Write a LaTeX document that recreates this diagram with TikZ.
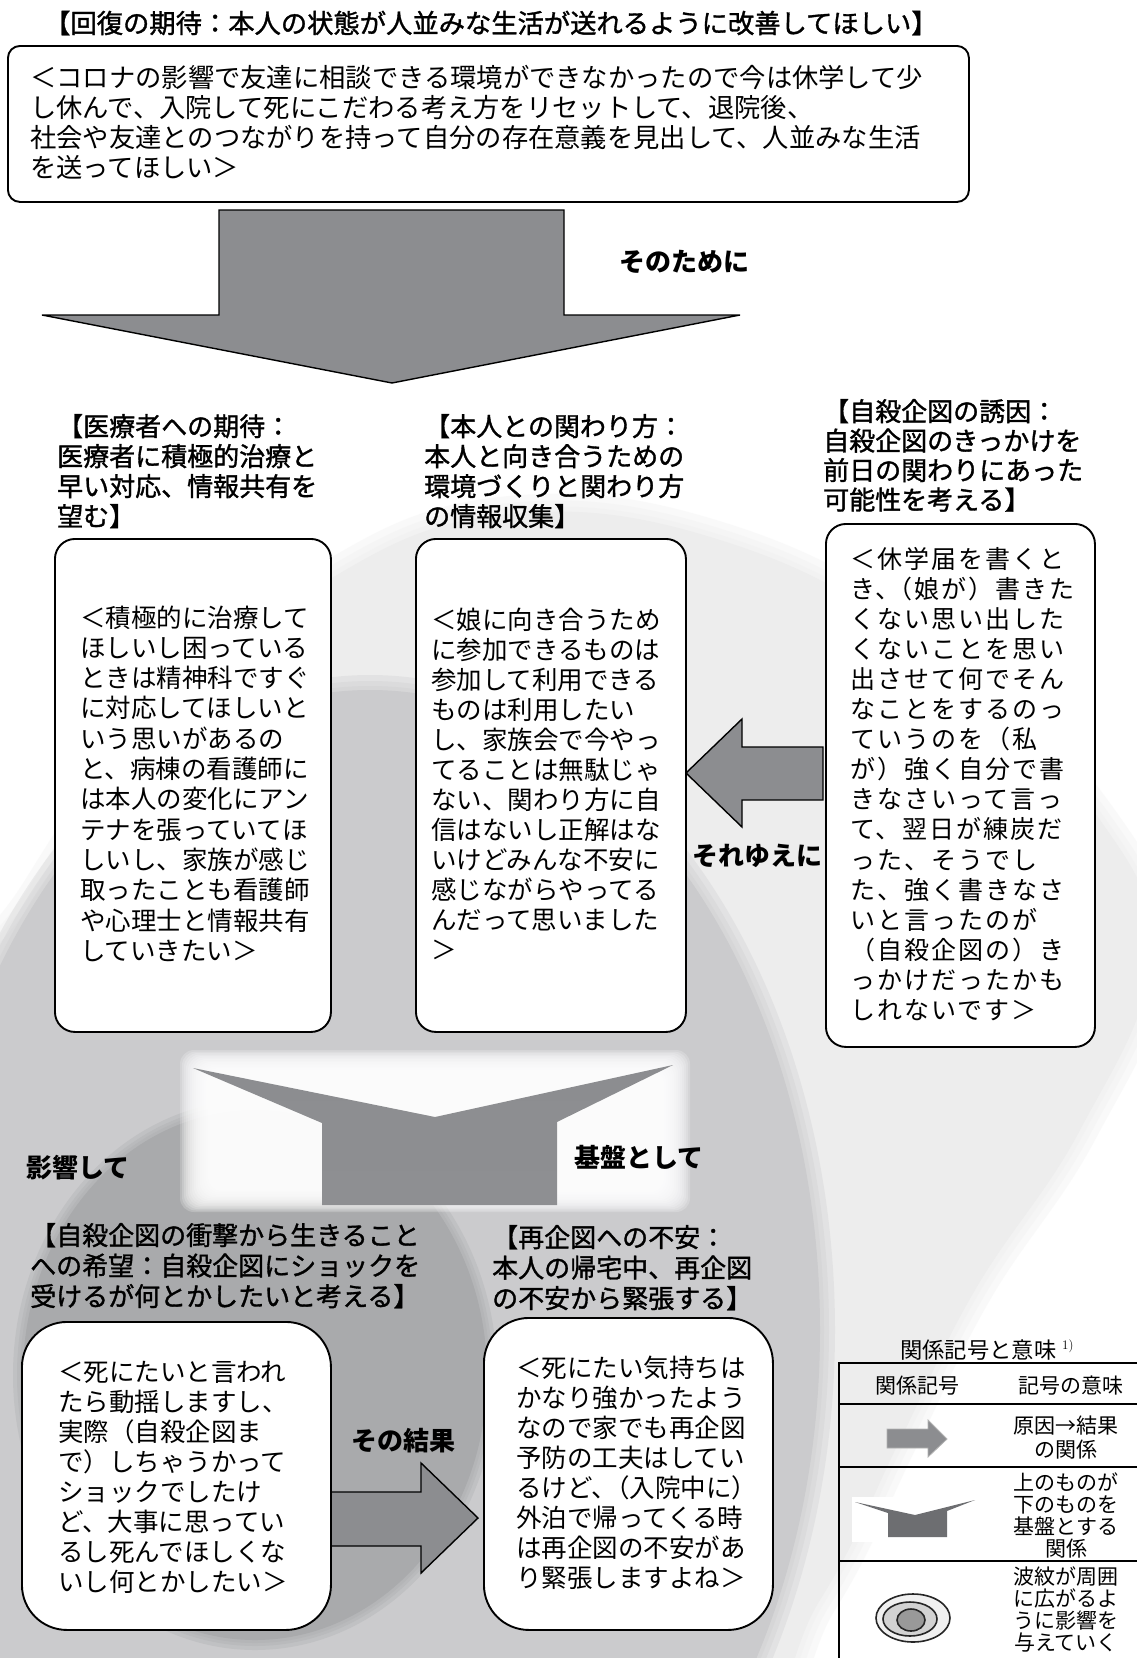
\documentclass[tikz,border=0pt]{standalone}
\usepackage{fontspec}
\newfontfamily\jp{Noto Sans CJK JP}
\newfontfamily\jpw[LetterSpace=8]{Noto Sans CJK JP}
\newfontfamily\jpm[FakeBold=1.3]{Noto Sans CJK JP}
\definecolor{bgA}{HTML}{EDEDED}
\definecolor{bgB}{HTML}{CBCBCD}
\definecolor{bgC}{HTML}{A9AAAC}
\definecolor{arrowgray}{HTML}{8C8D90}
\definecolor{mTop}{HTML}{8C8D90}
\definecolor{mMid}{HTML}{6E6F72}
\definecolor{mBot}{HTML}{8E8F92}
\definecolor{iconM}{HTML}{6D6E71}
\begin{document}
\begin{tikzpicture}[x=1pt,y=-1pt,
  box/.style={draw=black, line width=1.9pt, fill=white, inner sep=0pt, anchor=north west},
  blk/.style={fill=arrowgray, draw=black, line width=1.4pt, line join=miter},
  tx/.style={anchor=base west, inner sep=0pt, font=\jp\fontsize{25.5}{30}\selectfont},
  txr/.style={anchor=base west, inner sep=0pt, font=\jpw\fontsize{25}{30}\selectfont},
  tt/.style={anchor=base west, inner sep=0pt, font=\jp\fontsize{26.3}{30}\selectfont},
  hd/.style={anchor=base west, inner sep=0pt, font=\jpm\fontsize{26}{30}\selectfont},
  lb/.style={anchor=base west, inner sep=0pt, font=\jp\bfseries\fontsize{26}{30}\selectfont},
  lg/.style={anchor=base, inner sep=0pt, font=\jp\fontsize{21}{24}\selectfont},
  halo/.style={line width=#1, opacity=0.3, line join=round}]
\useasboundingbox (0,0) rectangle (1137,1658);
\fill[white] (0,0) rectangle (1137,1658);

% ripple background (soft-edged layers)
\path[save path=\outerP] plot[smooth cycle, tension=0.7] coordinates {(-60,1080) (40,890) (170,710) (320,585) (500,515) (720,540) (930,650) (1100,820) (1150,960) (1080,1130) (975,1290) (900,1440) (820,1600) (700,1760) (300,1800) (-60,1500)};
\path[save path=\midP] (370,1330) ellipse [x radius=450, y radius=640];
\path[save path=\innP] (255,1375) ellipse [x radius=232, y radius=265];
\foreach \w in {36,22,10} \draw[bgA, halo=\w, use path=\outerP];
\fill[bgA, use path=\outerP];
\foreach \w in {30,18,8} \draw[bgB, halo=\w, use path=\midP];
\fill[bgB, use path=\midP];
\foreach \w in {20,12,6} \draw[bgC, halo=\w, use path=\innP];
\fill[bgC, use path=\innP];

% white glow behind base symbol
\foreach \k in {0,...,14}
  \fill[white, opacity=0.2, rounded corners=14] ({180+2*\k},{1050+1.5*\k}) rectangle ({690-2*\k},{1212-1.5*\k});

% base symbol
\shade[top color=mTop, middle color=mMid, bottom color=mBot]
  (193,1068) -- (435,1117) -- (673,1065) -- (557,1122) -- (557,1205) -- (322,1205) -- (322,1123) -- cycle;

% title
\node[hd, font=\jpm\fontsize{26.3}{30}\selectfont] (title) at (44,33) {【回復の期待：本人の状態が人並みな生活が送れるように改善してほしい】};

% top box
\node[box, rounded corners=12, minimum width=961, minimum height=156] (topbox) at (7,45) {};
\foreach \s [count=\i from 0] in {{＜コロナの影響で友達に相談できる環境ができなかったので今は休学して少},{し休んで、入院して死にこだわる考え方をリセットして、退院後、},{社会や友達とのつながりを持って自分の存在意義を見出して、人並みな生活},{を送ってほしい＞}}
  \node[tt] (tb\i) at ({30},{87+30*\i}) {\s};

% big down arrow
\draw[blk] (219,210) -- (564,210) -- (564,315) -- (740,315) -- (392,383) -- (42,315) -- (219,315) -- cycle;
\node[lb] (lab1) at (619,271) {そのために};

% headers
\foreach \s [count=\i from 0] in {{【医療者への期待：},{医療者に積極的治療と},{早い対応、情報共有を},{望む】}}
  \node[hd] (hL\i) at ({57},{436+30*\i}) {\s};
\foreach \s [count=\i from 0] in {{【本人との関わり方：},{本人と向き合うための},{環境づくりと関わり方},{の情報収集】}}
  \node[hd] (hM\i) at ({424},{436+30*\i}) {\s};
\foreach \s [count=\i from 0] in {{【自殺企図の誘因：},{自殺企図のきっかけを},{前日の関わりにあった},{可能性を考える】}}
  \node[hd] (hR\i) at ({823},{421+29.5*\i}) {\s};

% left arrow (それゆえに)
\draw[blk] (823,747) -- (742,747) -- (742,719) -- (686,773) -- (742,827) -- (742,800) -- (823,800) -- cycle;
\node[lb] (lab2) at (692,865) {それゆえに};

% three boxes
\node[box, rounded corners=20, minimum width=276, minimum height=493] (boxL) at (54,538) {};
\node[box, rounded corners=20, minimum width=270, minimum height=493] (boxM) at (415,538) {};
\node[box, rounded corners=20, minimum width=269, minimum height=523] (boxR) at (825,523) {};

\foreach \s [count=\i from 0] in {{＜積極的に治療して},{ほしいし困っている},{ときは精神科ですぐ},{に対応してほしいと},{いう思いがあるの},{と、病棟の看護師に},{は本人の変化にアン},{テナを張っていてほ},{しいし、家族が感じ},{取ったことも看護師},{や心理士と情報共有},{していきたい＞}}
  \node[tx] (tL\i) at ({80},{627+30.3*\i}) {\s};
\foreach \s [count=\i from 0] in {{＜娘に向き合うため},{に参加できるものは},{参加して利用できる},{ものは利用したい},{し、家族会で今やっ},{てることは無駄じゃ},{ない、関わり方に自},{信はないし正解はな},{いけどみんな不安に},{感じながらやってる},{んだって思いました},{＞}}
  \node[tx] (tM\i) at ({431},{629+30*\i}) {\s};
\foreach \s [count=\i from 0] in {{＜休学届を書くと},{き、\kern-.5em（娘が）書きた},{くない思い出した},{くないことを思い},{出させて何でそん},{なことをするのっ},{ていうのを（私},{が）強く自分で書},{きなさいって言っ},{て、翌日が練炭だ},{った、そうでし},{た、強く書きなさ},{いと言ったのが},{（自殺企図の）き},{っかけだったかも},{しれないです＞}}
  \node[txr] (tR\i) at ({850},{568+30.1*\i}) {\s};

% labels around base
\node[lb] (lab3) at (26,1177) {影響して};
\node[lb] (lab4) at (574,1167) {基盤として};

% bottom headers
\foreach \s [count=\i from 0] in {{【自殺企図の衝撃から生きること},{への希望：自殺企図にショックを},{受けるが何とかしたいと考える】}}
  \node[hd] (hBL\i) at ({30},{1245+30.5*\i}) {\s};
\foreach \s [count=\i from 0] in {{【再企図への不安：},{本人の帰宅中、再企図},{の不安から緊張する】}}
  \node[hd] (hBR\i) at ({492},{1247+30.5*\i}) {\s};

% bottom arrow (その結果)
\draw[blk] (329,1492) -- (421,1492) -- (421,1463) -- (478,1518) -- (421,1573) -- (421,1546) -- (329,1546) -- cycle;
\node[lb] (lab5) at (351,1450) {その結果};

% bottom boxes
\node[box, rounded corners=45, minimum width=309, minimum height=308] (boxBL) at (21,1321) {};
\node[box, rounded corners=45, minimum width=289, minimum height=312] (boxBR) at (483,1317) {};
\foreach \s [count=\i from 0] in {{＜死にたいと言われ},{たら動揺しますし、},{実際（自殺企図ま},{で）しちゃうかって},{ショックでしたけ},{ど、大事に思ってい},{るし死んでほしくな},{いし何とかしたい＞}}
  \node[tx] (tBL\i) at ({58},{1381+30*\i}) {\s};
\foreach \s [count=\i from 0] in {{＜死にたい気持ちは},{かなり強かったよう},{なので家でも再企図},{予防の工夫はしてい},{るけど、\kern-.5em（入院中に）},{外泊で帰ってくる時},{は再企図の不安があ},{り緊張しますよね＞}}
  \node[tx] (tBR\i) at ({516},{1377+30.1*\i}) {\s};

% legend
\node[anchor=base west, inner sep=0pt, font=\jp\fontsize{22.3}{24}\selectfont] (lgt) at (900,1358) {関係記号と意味};
\node[anchor=base west, inner sep=0pt, font=\fontsize{13}{15}\selectfont] (lgs) at (1062,1349) {1)};
\draw[line width=1.8pt] (839,1363) -- (1137,1363);
\draw[line width=1.8pt] (839,1404) -- (1137,1404);
\draw[line width=1.8pt] (839,1467) -- (1137,1467);
\draw[line width=1.8pt] (839,1561) -- (1137,1561);
\draw[line width=1.8pt] (839,1362) -- (839,1658);
\node[lg] (lh1) at (917,1393) {関係記号};
\node[lg] (lh2) at (1071,1393) {記号の意味};
\node[lg] (r1a) at (1066,1433) {原因→結果};
\node[lg] (r1b) at (1066,1457) {の関係};
\node[lg] (r2a) at (1066,1490) {上のものが};
\node[lg] (r2b) at (1066,1512) {下のものを};
\node[lg] (r2c) at (1066,1534) {基盤とする};
\node[lg] (r2d) at (1066,1556) {関係};
\node[lg] (r3a) at (1066,1584) {波紋が周囲};
\node[lg] (r3b) at (1066,1606) {に広がるよ};
\node[lg] (r3c) at (1066,1628) {うに影響を};
\node[lg] (r3d) at (1066,1650) {与えていく};
% legend icons
\fill[arrowgray, draw=gray!60, line width=0.8pt] (887,1429) -- (928,1429) -- (928,1420) -- (947,1439) -- (928,1457) -- (928,1448) -- (887,1448) -- cycle;
\fill[white] (852,1497) rectangle (975,1542);
\fill[iconM] (855,1502) -- (915,1515) -- (975,1500) -- (947,1511) -- (947,1537) -- (888,1537) -- (888,1513) -- cycle;
\draw[line width=1.6pt, draw=black!85, fill=gray!12] (913,1618) ellipse [x radius=37, y radius=24];
\draw[line width=1.6pt, draw=black!85, fill=gray!35] (910,1619) ellipse [x radius=27, y radius=17];
\draw[line width=1.6pt, draw=black!85, fill=gray!80] (911,1620) ellipse [x radius=14, y radius=11];
\end{tikzpicture}
\end{document}
